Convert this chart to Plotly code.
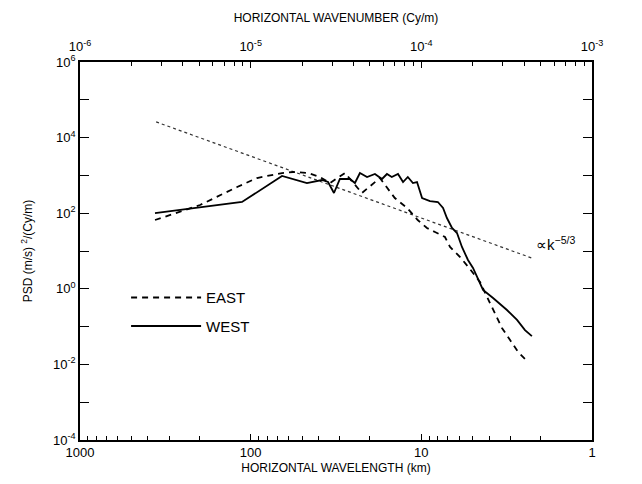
import plotly.graph_objects as go

# ---- data ----
west_wavelength_km = [363.5, 112.4, 65.5, 46.8, 38.2, 35.2, 32.5, 30.0, 26.2, 24.5,
                      22.9, 20.8, 18.7, 17.0, 15.9, 14.9, 13.7, 12.8, 12.0, 11.2,
                      10.6, 9.9, 8.9, 8.0, 7.46, 7.08, 6.61, 6.18, 5.78, 5.33,
                      4.98, 4.72, 4.35, 3.80, 3.15, 2.75, 2.47, 2.25]
west_psd = [101, 198, 964, 629, 755, 668, 342, 803, 803, 629,
            1156, 907, 1089, 803, 1089, 907, 1089, 668, 907, 629,
            668, 252, 210, 198, 137, 74.6, 40.6, 29.9, 12.8, 5.78,
            3.55, 2.05, 0.93, 0.57, 0.275, 0.150, 0.081, 0.056]

east_wavelength_km = [363.5, 198, 120, 91.8, 65.5, 56.5, 46.1, 39.3, 34.3, 28.0,
                      22.3, 17.5, 14.3, 12.1, 10.5, 9.27, 8.32, 7.27, 6.79, 5.93,
                      5.19, 4.53, 3.96, 3.60, 3.37, 3.02, 2.71, 2.37]
east_psd = [66, 165, 493, 853, 1156, 1230, 1156, 907, 629, 1156,
            342, 853, 252, 137, 66, 40.6, 31.8, 23.4, 12.8, 6.94,
            3.34, 1.51, 0.42, 0.18, 0.092, 0.044, 0.0213, 0.0116]

ref_wavelength_km = [358, 2.25]
ref_psd = [2.6e4, 6.5]

x_tick_vals = [1000, 100, 10, 1]
x_tick_text = ["1000", "100", "10", "1"]
top_tick_vals = [1e-6, 1e-5, 1e-4, 1e-3]
top_tick_text = ["10<sup>-6</sup>", "10<sup>-5</sup>", "10<sup>-4</sup>", "10<sup>-3</sup>"]
y_label_exponents = [-4, -2, 0, 2, 4, 6]
y_minor_exponents = [-3, -1, 1, 3, 5]

FONT = "Liberation Sans, Arial, Helvetica, sans-serif"

fig = go.Figure()
fig.add_trace(go.Scatter(x=ref_wavelength_km, y=ref_psd, mode="lines",
                         line=dict(color="#333", width=1.2, dash="dot"),
                         showlegend=False, hoverinfo="skip"))
fig.add_trace(go.Scatter(x=east_wavelength_km, y=east_psd, mode="lines", name="EAST",
                         legendgroup="east",
                         line=dict(color="black", width=1.8, dash="6px,5px")))
fig.add_trace(go.Scatter(x=west_wavelength_km, y=west_psd, mode="lines", name="WEST",
                         legendgroup="west",
                         line=dict(color="black", width=1.8)))

minor_x = [m * 10 ** e for e in range(0, 3) for m in range(2, 10)]
minor_top = [m * 10 ** e for e in range(-6, -3) for m in range(2, 10)]

# page body adds an 8px offset at left/top, so the figure is drawn 8px smaller
fig.update_layout(
    width=634, height=476,
    margin=dict(l=72, r=50, t=54, b=44),
    paper_bgcolor="white", plot_bgcolor="white",
    font=dict(family=FONT, color="black", size=12),
    showlegend=True,
    legend=dict(x=0.09, y=0.42, xanchor="left", yanchor="top",
                bgcolor="rgba(0,0,0,0)", font=dict(size=15, family=FONT),
                itemwidth=70, tracegroupgap=6),
    xaxis=dict(type="log", range=[3, 0], showgrid=False, zeroline=False,
               automargin=False,
               showline=True, linecolor="black", linewidth=1.5,
               ticks="inside", ticklen=6, tickcolor="black",
               tickmode="array", tickvals=x_tick_vals, ticktext=x_tick_text,
               tickfont=dict(size=13),
               minor=dict(tickmode="array", tickvals=minor_x, ticks="inside",
                          ticklen=4, tickcolor="black"),
               title=dict(text="HORIZONTAL WAVELENGTH (km)", font=dict(size=12), standoff=4)),
    xaxis2=dict(type="log", range=[-6, -3], overlaying="x", side="top",
                automargin=False,
                showgrid=False, zeroline=False, showline=True,
                linecolor="black", linewidth=1.5,
                ticks="inside", ticklen=6, tickcolor="black",
                tickmode="array", tickvals=top_tick_vals, ticktext=top_tick_text,
                tickfont=dict(size=13), ticklabelstandoff=4,
                minor=dict(tickmode="array", tickvals=minor_top, ticks="inside",
                           ticklen=4, tickcolor="black"),
                title=dict(text="HORIZONTAL WAVENUMBER (Cy/m)", font=dict(size=12), standoff=12)),
    yaxis=dict(type="log", range=[-4, 6], showgrid=False, zeroline=False,
               automargin=False,
               showline=True, linecolor="black", linewidth=1.5, mirror="ticks",
               ticks="inside", ticklen=9, tickcolor="black",
               tickmode="array", tickvals=[10 ** e for e in y_label_exponents],
               ticktext=["10<sup>%d</sup>" % e for e in y_label_exponents],
               tickfont=dict(size=13),
               minor=dict(tickmode="array", tickvals=[10 ** e for e in y_minor_exponents],
                          ticks="inside", ticklen=9, tickcolor="black"),
               title=dict(text="PSD (m/s) <sup>2</sup>/(Cy/m)", font=dict(size=12), standoff=18)),
)

# invisible trace to activate the top axis
fig.add_trace(go.Scatter(x=[1e-6, 1e-3], y=[1e-4, 1e-4], xaxis="x2", mode="lines",
                         line=dict(width=0), opacity=0, showlegend=False, hoverinfo="skip"))

fig.add_annotation(text="\u221dk<sup>\u22125/3</sup>", xref="paper", yref="paper",
                   x=0.887, y=0.52, xanchor="left", yanchor="middle",
                   showarrow=False, font=dict(size=15, family=FONT))

fig.write_html("out.html")
